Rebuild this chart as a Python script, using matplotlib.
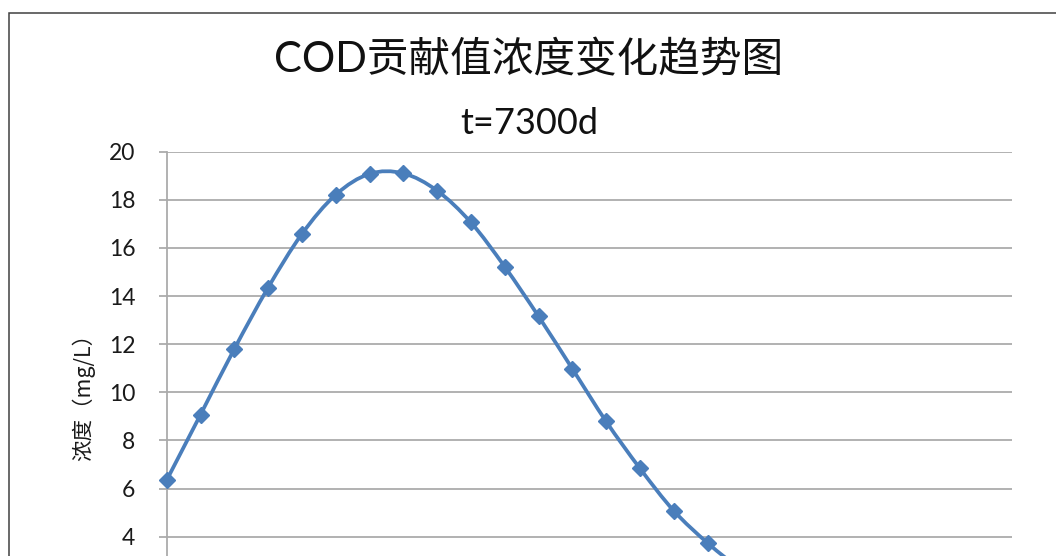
import matplotlib
matplotlib.use("Agg")
import matplotlib.pyplot as plt
from matplotlib.path import Path
from matplotlib.patches import PathPatch, Rectangle

# Chart text
title_main = "COD贡献值浓度变化趋势图"
title_sub = "t=7300d"
y_label = "浓度（mg/L）"

# Series: contribution concentration at successive positions
positions = list(range(18))
cod = [6.35, 9.07, 11.80, 14.35, 16.58, 18.21, 19.08, 19.10, 18.38,
       17.06, 15.22, 13.16, 10.98, 8.79, 6.84, 5.08, 3.74, 2.6]

# Axis settings
y_ticks = list(range(4, 21, 2))
x_max = 25

LINE_BLUE = "#4A7EBB"
GRID_GREY = "#ABABAB"
LATIN_CJK = ["Lato", "Noto Sans CJK SC", "DejaVu Sans"]
plt.rcParams["font.family"] = LATIN_CJK

W, H = 1056, 556
fig = plt.figure(figsize=(W / 100, H / 100), dpi=100)
fig.patch.set_facecolor("white")

# Chart-area border
fig.patches.append(Rectangle((9 / W, -1.0), 2.0, 1.0 + (1 - 13 / H),
                             transform=fig.transFigure, fill=False,
                             edgecolor="#404040", linewidth=1.1))

top_px, bottom_px = 151.7, 151.7 + 20 * 24.06
left_px, right_px = 166.7, 1011.7
ax = fig.add_axes([left_px / W, 1 - bottom_px / H,
                   (right_px - left_px) / W, (bottom_px - top_px) / H])
ax.set_xlim(0, x_max)
ax.set_ylim(0, 20)
ax.set_yticks(y_ticks)
ax.set_xticks([])
ax.yaxis.grid(True, color=GRID_GREY, linewidth=1.3)
ax.set_axisbelow(True)
for side in ("top", "right", "bottom"):
    ax.spines[side].set_visible(False)
ax.spines["left"].set_color(GRID_GREY)
ax.spines["left"].set_linewidth(1.3)
ax.tick_params(axis="y", direction="out", length=6, width=1.3,
               color=GRID_GREY, pad=16.5, labelsize=16.5, labelcolor="#1a1a1a")

ax.set_ylabel(y_label, fontsize=15.5, color="#1a1a1a",
              family=["Noto Sans CJK SC", "DejaVu Sans"])
ax.yaxis.set_label_coords((83 - left_px) / (right_px - left_px), 0.5)
ax.yaxis.label.set_verticalalignment("center")

# Smoothed line through the points (cubic Bezier segments)
pts = list(zip(positions, cod))
n = len(pts)
verts = [pts[0]]
codes = [Path.MOVETO]
for i in range(n - 1):
    p0 = pts[i - 1] if i > 0 else pts[i]
    p1 = pts[i]
    p2 = pts[i + 1]
    p3 = pts[i + 2] if i + 2 < n else pts[i + 1]
    c1 = (p1[0] + (p2[0] - p0[0]) / 6, p1[1] + (p2[1] - p0[1]) / 6)
    c2 = (p2[0] - (p3[0] - p1[0]) / 6, p2[1] - (p3[1] - p1[1]) / 6)
    verts += [c1, c2, p2]
    codes += [Path.CURVE4] * 3
ax.add_patch(PathPatch(Path(verts, codes), fill=False, edgecolor=LINE_BLUE,
                       linewidth=2.7, capstyle="round", joinstyle="round",
                       clip_on=False, zorder=3))
ax.plot(positions, cod, linestyle="none", marker="D", markersize=8,
        markerfacecolor=LINE_BLUE, markeredgecolor=LINE_BLUE,
        markeredgewidth=1.0, clip_on=False, zorder=4)

# Two-line title
cx = 529 / W
fig.text(cx, 1 - 60 / H, title_main, ha="center", va="center",
         fontsize=30, color="#111111", family=LATIN_CJK)
fig.text(cx, 1 - 134 / H, title_sub, ha="center", va="baseline",
         fontsize=26, color="#111111", family=LATIN_CJK)

fig.savefig("out.png", dpi=100, facecolor="white")
